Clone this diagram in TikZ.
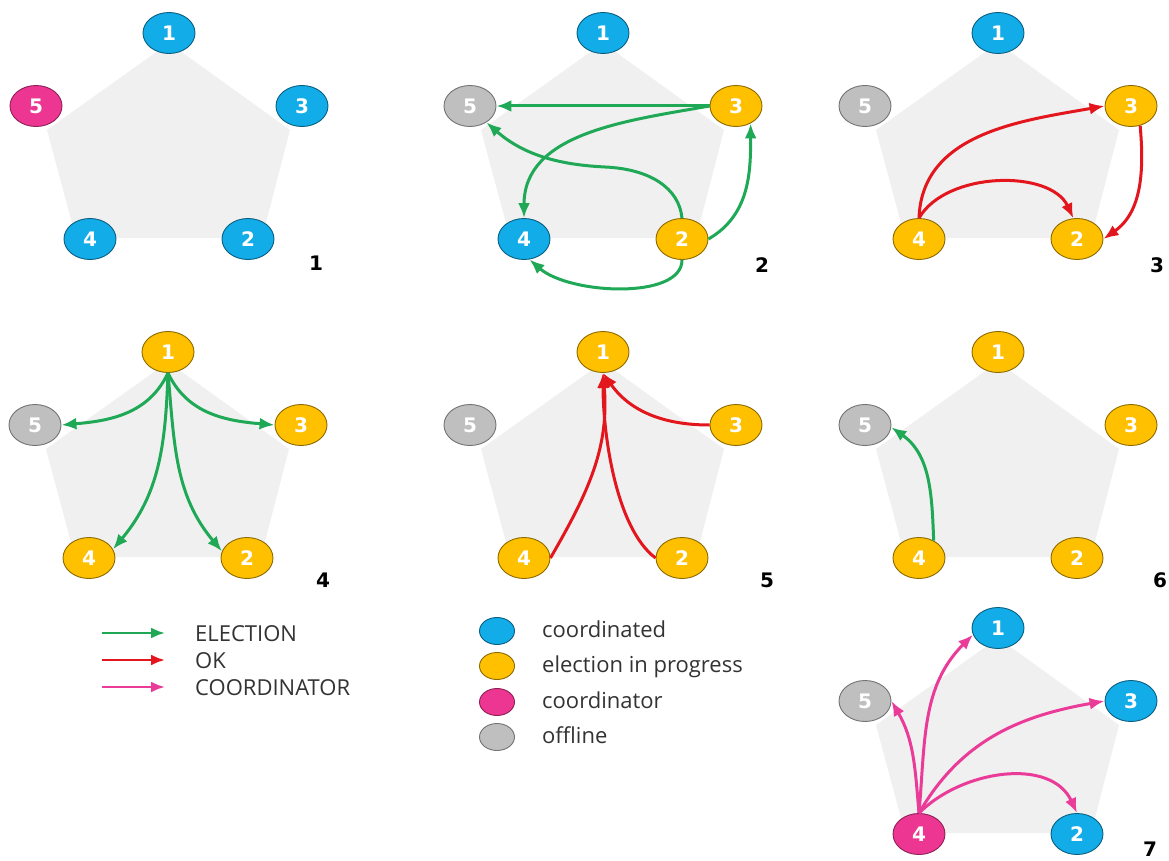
\documentclass[tikz,border=0pt]{standalone}
\usepackage{fontspec}
\setmainfont{Open Sans}
\newfontfamily\numfont{DejaVu Sans}
\usetikzlibrary{shapes.geometric,arrows.meta}

\definecolor{nodeblue}{HTML}{12ACE8}
\definecolor{nodegold}{HTML}{FFC000}
\definecolor{nodepink}{HTML}{EC3691}
\definecolor{nodegray}{HTML}{BFBFBF}
\definecolor{msggreen}{HTML}{1FA855}
\definecolor{msgred}{HTML}{E3161E}
\definecolor{msgpink}{HTML}{EA3B98}
\definecolor{pentgray}{HTML}{F0F0F0}
\definecolor{legendtext}{HTML}{333333}

\tikzset{
  peer/.style={ellipse, minimum width=52pt, minimum height=41pt, inner sep=0pt,
    line width=0.9pt, text=white, font=\numfont\bfseries\fontsize{20}{20}\selectfont},
  stcoord/.style={peer, fill=nodeblue, draw=nodeblue!55!black},
  stbusy/.style={peer, fill=nodegold, draw=nodegold!55!black},
  stleader/.style={peer, fill=nodepink, draw=nodepink!60!black},
  stoffline/.style={peer, fill=nodegray, draw=nodegray!60!black},
  ringfill/.style={fill=pentgray},
  msg/.style={line width=3pt, -{Latex[length=15pt,width=12pt]}},
  election/.style={msg, draw=msggreen},
  okmsg/.style={msg, draw=msgred},
  coordmsg/.style={msg, draw=msgpink},
  legendarrow/.style={line width=2.6pt, -{Latex[length=14pt,width=11pt]}},
  panelno/.style={font=\numfont\bfseries\fontsize{20}{20}\selectfont, text=black, inner sep=0pt},
  legendtxt/.style={anchor=base west, text=legendtext, font=\fontsize{22}{24}\selectfont, inner sep=0pt},
  swatch/.style={ellipse, minimum width=35pt, minimum height=27pt, inner sep=0pt, line width=0.9pt},
}

% one ring of five processes: name prefix, position of process 1, styles of processes 1..5
\newcommand\drawpanel[8]{%
  \begin{scope}[shift={(#2,-#3)}]
    \fill[ringfill] (0,-10) -- (121,-97) -- (93,-205) -- (-93,-205) -- (-122,-97) -- cycle;
    \node[#4] (#1-1) at (0,0) {1};
    \node[#5] (#1-2) at (79,-206) {2};
    \node[#6] (#1-3) at (133,-73) {3};
    \node[#7] (#1-4) at (-79,-206) {4};
    \node[#8] (#1-5) at (-133,-73) {5};
  \end{scope}}

\begin{document}
\begin{tikzpicture}[x=1pt,y=1pt]
  \fill[white] (0,0) rectangle (1169,-861);
  \useasboundingbox (0,0) rectangle (1169,-861);

  % the seven steps of the bully election
  \drawpanel{p1}{169}{33}{stcoord}{stcoord}{stcoord}{stcoord}{stleader}
  \drawpanel{p2}{603}{33}{stcoord}{stbusy}{stbusy}{stcoord}{stoffline}
  \drawpanel{p3}{998}{33}{stcoord}{stbusy}{stbusy}{stbusy}{stoffline}
  \drawpanel{p4}{168}{352}{stbusy}{stbusy}{stbusy}{stbusy}{stoffline}
  \drawpanel{p5}{603}{352}{stbusy}{stbusy}{stbusy}{stbusy}{stoffline}
  \drawpanel{p6}{998}{352}{stbusy}{stbusy}{stbusy}{stbusy}{stoffline}
  \drawpanel{p7}{998}{628}{stcoord}{stcoord}{stcoord}{stleader}{stoffline}

  \node[panelno] (lab1) at (316,-263) {1};
  \node[panelno] (lab2) at (762,-265) {2};
  \node[panelno] (lab3) at (1157,-265) {3};
  \node[panelno] (lab4) at (323,-580) {4};
  \node[panelno] (lab5) at (767,-580) {5};
  \node[panelno] (lab6) at (1160,-580) {6};
  \node[panelno] (lab7) at (1150,-849) {7};

  % step 2: processes 2 and 3 send ELECTION upwards
  \draw[election] (p2-3.west) -- (p2-5.east);
  \draw[election] (p2-3.west) to[out=190,in=90] (p2-4.north);
  \draw[election] (p2-2.north) .. controls +(-3,30) and (650,-169) .. (605,-167)
                  .. controls (565,-165) and +(40,-35) .. (p2-5.-45);
  \draw[election] (p2-2.east) to[out=30,in=-90] (p2-3.-50);
  \draw[election] (p2-2.south) .. controls +(0,-40) and +(40,-35) .. (p2-4.-75);

  % step 3: OK replies
  \draw[okmsg] (p3-4.north) to[out=88,in=190] (p3-3.west);
  \draw[okmsg] (p3-4.north) to[out=60,in=115,looseness=0.9] (p3-2.100);
  \draw[okmsg] (p3-3.-65) to[out=-85,in=35] (p3-2.east);

  % step 4: process 1 sends ELECTION to everyone
  \draw[election] (p4-1.south) to[out=-115,in=5] (p4-5.east);
  \draw[election] (p4-1.south) to[out=-65,in=175] (p4-3.west);
  \draw[election] (p4-1.south) to[out=-92,in=50] (p4-4.20);
  \draw[election] (p4-1.south) to[out=-85,in=130] (p4-2.165);

  % step 5: OK replies to process 1
  \draw[okmsg] (p5-3.west) to[out=180,in=-55] (p5-1.south);
  \draw[okmsg] (p5-4.east) to[out=60,in=-85] (p5-1.south);
  \draw[okmsg] (p5-2.west) .. controls +(-40,30) and +(0,-60) .. (p5-1.south);

  % step 6: process 4 tries process 5
  \draw[election] (p6-4.50) to[out=92,in=-35] (p6-5.-5);

  % step 7: process 4 announces itself
  \draw[coordmsg] (p7-4.north) to[out=95,in=-60] (p7-5.east);
  \draw[coordmsg] (p7-4.north) to[out=85,in=-135] (p7-1.195);
  \draw[coordmsg] (p7-4.north) to[out=60,in=190] (p7-3.west);
  \draw[coordmsg] (p7-4.north) to[out=45,in=115] (p7-2.north);

  % message legend
  \coordinate (m1a) at (102,-633); \coordinate (m1b) at (165,-633);
  \coordinate (m2a) at (102,-660); \coordinate (m2b) at (165,-660);
  \coordinate (m3a) at (102,-687); \coordinate (m3b) at (165,-687);
  \draw[legendarrow, draw=msggreen] (m1a) -- (m1b);
  \draw[legendarrow, draw=msgred] (m2a) -- (m2b);
  \draw[legendarrow, draw=msgpink] (m3a) -- (m3b);
  \node[legendtxt] (t1) at (195,-641) {ELECTION};
  \node[legendtxt] (t2) at (195,-668) {OK};
  \node[legendtxt] (t3) at (195,-695) {COORDINATOR};

  % state legend
  \node[swatch, fill=nodeblue, draw=nodeblue!55!black] (s1) at (497,-631) {};
  \node[swatch, fill=nodegold, draw=nodegold!55!black] (s2) at (497,-666) {};
  \node[swatch, fill=nodepink, draw=nodepink!60!black] (s3) at (497,-702) {};
  \node[swatch, fill=nodegray, draw=nodegray!60!black] (s4) at (497,-737) {};
  \node[legendtxt] (u1) at (542,-637) {coordinated};
  \node[legendtxt] (u2) at (542,-672) {election in progress};
  \node[legendtxt] (u3) at (542,-708) {coordinator};
  \node[legendtxt] (u4) at (542,-743) {offline};
\end{tikzpicture}
\end{document}
